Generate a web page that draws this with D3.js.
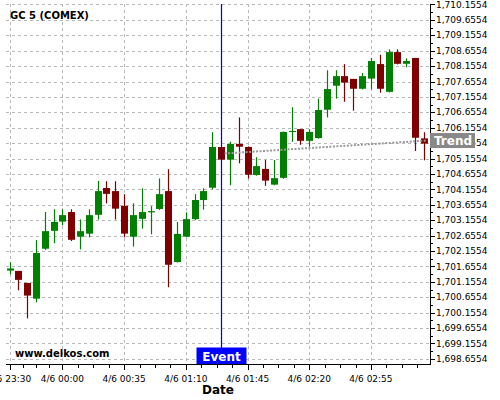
<!DOCTYPE html>
<html><head><meta charset="utf-8">
<script src="https://cdn.jsdelivr.net/npm/d3@7"></script>
<style>body{margin:0;background:#fff}svg{display:block}</style>
</head><body>
<script>
const times = [
"2020-04-05T23:30","2020-04-05T23:35","2020-04-05T23:40","2020-04-05T23:45","2020-04-05T23:50","2020-04-05T23:55",
"2020-04-06T00:00","2020-04-06T00:05","2020-04-06T00:10","2020-04-06T00:15","2020-04-06T00:20","2020-04-06T00:25",
"2020-04-06T00:30","2020-04-06T00:35","2020-04-06T00:40","2020-04-06T00:45","2020-04-06T00:50","2020-04-06T00:55",
"2020-04-06T01:00","2020-04-06T01:05","2020-04-06T01:10","2020-04-06T01:15","2020-04-06T01:20","2020-04-06T01:25",
"2020-04-06T01:30","2020-04-06T01:35","2020-04-06T01:40","2020-04-06T01:45","2020-04-06T01:50","2020-04-06T01:55",
"2020-04-06T02:00","2020-04-06T02:05","2020-04-06T02:10","2020-04-06T02:15","2020-04-06T02:20","2020-04-06T02:25",
"2020-04-06T02:30","2020-04-06T02:35","2020-04-06T02:40","2020-04-06T02:45","2020-04-06T02:50","2020-04-06T02:55",
"2020-04-06T03:00","2020-04-06T03:05","2020-04-06T03:10","2020-04-06T03:15","2020-04-06T03:20","2020-04-06T03:25"];
const open = [1701.52,1701.51,1701.12,1700.61,1702.23,1702.81,1703.11,1703.42,1702.62,1702.72,1703.33,1704.20,
1704.10,1703.62,1702.62,1703.20,1703.41,1703.52,1704.10,1701.80,1702.62,1703.19,1703.81,1704.21,
1705.53,1705.12,1705.63,1705.53,1704.62,1704.82,1704.31,1704.53,1706.03,1706.11,1705.73,1705.82,
1706.74,1707.52,1707.83,1707.74,1707.42,1707.75,1708.22,1707.32,1708.61,1708.23,1708.42,1705.81];
const high = [1701.79,1701.51,1701.12,1702.51,1703.42,1703.51,1703.51,1703.51,1703.18,1703.51,1704.43,1704.42,
1704.42,1704.00,1703.70,1704.19,1703.61,1704.51,1704.81,1703.10,1703.41,1704.00,1704.19,1706.01,
1705.53,1705.70,1706.49,1705.55,1705.20,1705.11,1705.11,1706.03,1706.82,1706.11,1706.11,1707.10,
1708.02,1708.02,1708.22,1707.74,1707.93,1708.42,1708.52,1708.70,1708.70,1708.41,1708.42,1706.01];
const low = [1701.40,1700.88,1699.97,1700.49,1702.19,1702.41,1702.99,1702.48,1702.21,1702.60,1703.18,1703.70,
1703.18,1702.60,1702.30,1702.88,1702.70,1703.49,1700.98,1701.78,1702.60,1703.16,1703.50,1704.16,
1705.12,1704.29,1705.00,1704.51,1704.60,1704.27,1704.29,1704.50,1705.70,1705.60,1705.54,1705.80,
1706.49,1707.10,1707.00,1706.71,1707.40,1707.40,1707.29,1707.30,1708.21,1708.12,1705.40,1705.10];
const close = [1701.59,1701.22,1700.71,1702.09,1702.80,1703.10,1703.32,1702.52,1702.80,1703.32,1704.10,1704.01,
1703.53,1702.72,1703.32,1703.42,1703.45,1704.00,1701.71,1702.71,1703.19,1703.81,1704.10,1705.53,
1705.12,1705.63,1705.54,1704.63,1704.91,1704.44,1704.52,1706.02,1706.05,1705.73,1706.02,1706.73,
1707.41,1707.83,1707.62,1707.42,1707.83,1708.32,1707.42,1708.61,1708.23,1708.32,1705.83,1705.64];

const xTickTimes = ["2020-04-05T23:30","2020-04-06T00:00","2020-04-06T00:35","2020-04-06T01:10","2020-04-06T01:45","2020-04-06T02:20","2020-04-06T02:55"];
const xTickLabels = ["4/5 23:30","4/6 00:00","4/6 00:35","4/6 01:10","4/6 01:45","4/6 02:20","4/6 02:55"];
const yTicks = [1698.6554,1699.1554,1699.6554,1700.1554,1700.6554,1701.1554,1701.6554,1702.1554,1702.6554,1703.1554,
1703.6554,1704.1554,1704.6554,1705.1554,1705.6554,1706.1554,1706.6554,1707.1554,1707.6554,1708.1554,1708.6554,
1709.1554,1709.6554,1710.1554];
const eventTime = "2020-04-06T01:30";
const eventLabel = "Event";
const trendTimes = ["2020-04-06T01:32","2020-04-06T03:27"];
const trendValues = [1705.32,1705.74];
const trendLabel = "Trend";
const title = "GC 5 (COMEX)";
const watermark = "www.delkos.com";
const xTitle = "Date";

const W = 500, H = 400;
const L = 6, R = 430, T = 4, B = 364;
const FONT = "'DejaVu Sans', sans-serif";

const svg = d3.select("body").append("svg").attr("width", W).attr("height", H)
  .style("font-family", FONT);

const x = d3.scaleTime()
  .domain([new Date("2020-04-05T23:28:00"), new Date("2020-04-06T03:28:30")])
  .range([L, R]);
const y = d3.scaleLinear().domain([1698.49, 1710.17]).range([B, T]);

const data = times.map((t, i) => ({t: new Date(t), o: open[i], h: high[i], l: low[i], c: close[i]}));
const majorX = xTickTimes.map(d => new Date(d));

// grid
const gridColor = "#b8b8b8";
const grid = svg.append("g").attr("class", "grid");
grid.selectAll("line.hg").data(yTicks).enter().append("line").attr("class", "hg")
  .attr("x1", L).attr("x2", R)
  .attr("y1", d => Math.round(y(d)) + 0.5).attr("y2", d => Math.round(y(d)) + 0.5)
  .attr("stroke", gridColor).attr("stroke-width", 1).attr("stroke-dasharray", "3,3");
grid.selectAll("line.vg").data(majorX).enter().append("line").attr("class", "vg")
  .attr("x1", d => Math.round(x(d)) + 0.5).attr("x2", d => Math.round(x(d)) + 0.5)
  .attr("y1", T).attr("y2", B)
  .attr("stroke", gridColor).attr("stroke-width", 1).attr("stroke-dasharray", "3,3");

// title & watermark
svg.append("text").attr("x", 10).attr("y", 18.5).attr("font-size", 10).attr("font-weight", "bold")
  .attr("fill", "#000").text(title);
svg.append("text").attr("x", 15).attr("y", 356.5).attr("font-size", 10).attr("font-weight", "bold")
  .attr("fill", "#000").text(watermark);

// candles
const bw = 7;
const cg = svg.append("g");
cg.selectAll("line.wick").data(data).enter().append("line").attr("class", "wick")
  .attr("x1", d => Math.round(x(d.t)) + 0.5).attr("x2", d => Math.round(x(d.t)) + 0.5)
  .attr("y1", d => y(d.h)).attr("y2", d => y(d.l))
  .attr("stroke", d => d.c >= d.o ? "#008000" : "#800000").attr("stroke-width", 1.2);
cg.selectAll("rect.body").data(data).enter().append("rect").attr("class", "body")
  .attr("x", d => Math.round(x(d.t)) + 0.5 - bw / 2)
  .attr("width", bw)
  .attr("y", d => y(Math.max(d.o, d.c)))
  .attr("height", d => Math.max(1, Math.abs(y(d.o) - y(d.c))))
  .attr("fill", d => d.c >= d.o ? "#008000" : "#800000");

// trend line
svg.append("path")
  .datum(trendTimes.map((t, i) => [new Date(t), trendValues[i]]))
  .attr("d", d3.line().x(d => x(d[0])).y(d => y(d[1])))
  .attr("fill", "none").attr("stroke", "#9a9a9a").attr("stroke-width", 2)
  .attr("stroke-dasharray", "2,1.5");

// event line
const ex = Math.round(x(new Date(eventTime))) + 0.5;
svg.append("line").attr("x1", ex).attr("x2", ex).attr("y1", T).attr("y2", B)
  .attr("stroke", "#0000dd").attr("stroke-width", 1.2);

// x axis
svg.append("line").attr("x1", L).attr("x2", R).attr("y1", B + 0.5).attr("y2", B + 0.5)
  .attr("stroke", "#000").attr("stroke-width", 1);
const minorX = [];
for (let i = 0; i < majorX.length - 1; i++) {
  const a = +majorX[i], b = +majorX[i + 1];
  for (let q = 1; q < 4; q++) minorX.push(new Date(a + (b - a) * q / 4));
}
{
  const step = (+majorX[6] - +majorX[5]) / 4;
  for (let t = +majorX[6] + step; t < +x.domain()[1]; t += step) minorX.push(new Date(t));
}
svg.append("g").selectAll("line").data(minorX).enter().append("line")
  .attr("x1", d => Math.round(x(d)) + 0.5).attr("x2", d => Math.round(x(d)) + 0.5)
  .attr("y1", B + 1).attr("y2", B + 4).attr("stroke", "#000");
svg.append("g").selectAll("line").data(majorX).enter().append("line")
  .attr("x1", d => Math.round(x(d)) + 0.5).attr("x2", d => Math.round(x(d)) + 0.5)
  .attr("y1", B + 1).attr("y2", B + 6).attr("stroke", "#000");
svg.append("g").selectAll("text").data(majorX).enter().append("text")
  .attr("x", d => x(d)).attr("y", 382).attr("text-anchor", "middle")
  .attr("font-size", 9).attr("fill", "#000")
  .text((d, i) => xTickLabels[i]);
svg.append("text").attr("x", (L + R) / 2).attr("y", 393.5).attr("text-anchor", "middle")
  .attr("font-size", 12).attr("font-weight", "bold").attr("fill", "#000").text(xTitle);

// y axis (right)
svg.append("line").attr("x1", R + 0.5).attr("x2", R + 0.5).attr("y1", T).attr("y2", B + 1)
  .attr("stroke", "#000").attr("stroke-width", 1);
const minorY = yTicks.slice(0, -1).map((d, i) => (d + yTicks[i + 1]) / 2);
svg.append("g").selectAll("line").data(minorY).enter().append("line")
  .attr("x1", R + 1).attr("x2", R + 3)
  .attr("y1", d => Math.round(y(d)) + 0.5).attr("y2", d => Math.round(y(d)) + 0.5).attr("stroke", "#000");
svg.append("g").selectAll("line").data(yTicks).enter().append("line")
  .attr("x1", R + 1).attr("x2", R + 5)
  .attr("y1", d => Math.round(y(d)) + 0.5).attr("y2", d => Math.round(y(d)) + 0.5).attr("stroke", "#000");
const fmt = d3.format(",.4f");
svg.append("g").selectAll("text").data(yTicks).enter().append("text")
  .attr("x", 436).attr("y", d => y(d)).attr("dy", "0.35em")
  .attr("font-size", 9).attr("fill", "#000").text(d => fmt(d));

// event label
svg.append("rect").attr("x", ex - 25).attr("y", 347.5).attr("width", 50).attr("height", B - 347.5)
  .attr("fill", "#0000ff");
svg.append("text").attr("x", ex).attr("y", 360.5).attr("text-anchor", "middle")
  .attr("font-size", 12).attr("font-weight", "bold").attr("fill", "#fff").text(eventLabel);

// trend label
const ty = y(trendValues[1]);
svg.append("rect").attr("x", R).attr("y", ty - 7.5).attr("width", 45).attr("height", 15)
  .attr("fill", "#888888");
svg.append("text").attr("x", R + 4).attr("y", ty + 4.5)
  .attr("font-size", 12).attr("font-weight", "bold").attr("fill", "#fff").text(trendLabel);
</script>
</body></html>
